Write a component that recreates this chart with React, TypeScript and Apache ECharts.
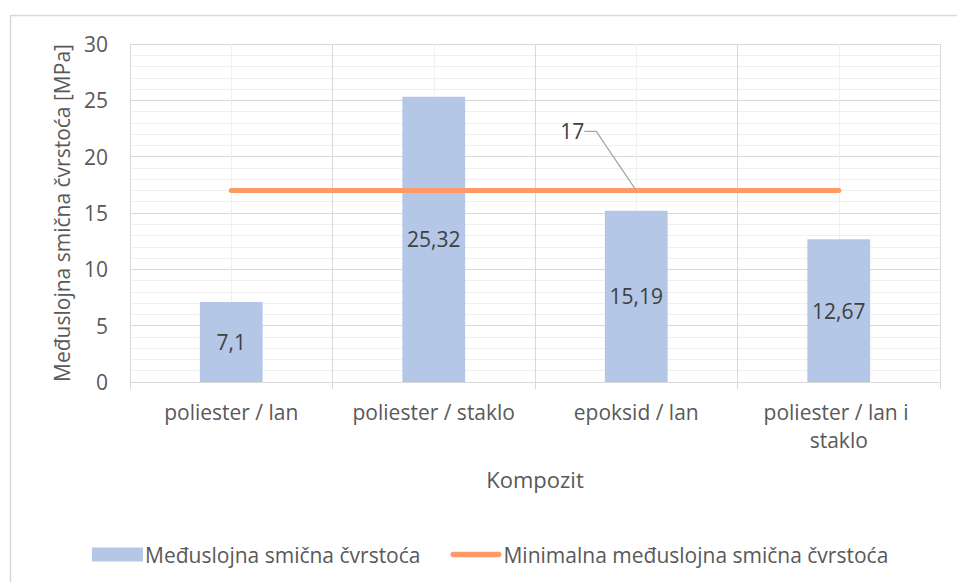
import React, { useEffect, useRef } from "react";
import * as echarts from "echarts";

const categories = ["poliester / lan", "poliester / staklo", "epoksid / lan", "poliester / lan i staklo"];
const strengthValues = [7.1, 25.32, 15.19, 12.67];
const minimumValues = [17, 17, 17, 17];
const labeledMinimumIndex = 2;
const yTicks = { min: 0, max: 30, interval: 5 };

const barName = "Međuslojna smična čvrstoća";
const lineName = "Minimalna međuslojna smična čvrstoća";
const yAxisName = "Međuslojna smična čvrstoća [MPa]";
const xAxisName = "Kompozit";

const FONT = "'Open Sans', 'Noto Sans', sans-serif";
const fmt = (v: number) => String(v).replace(".", ",");

export default function App() {
  const ref = useRef<HTMLDivElement>(null);
  useEffect(() => {
    document.body.style.margin = "0";
    const chart = echarts.init(ref.current!, null, { renderer: "svg" });
    chart.setOption({
      animation: false,
      backgroundColor: "#ffffff",
      textStyle: { fontFamily: FONT },
      graphic: [
        {
          type: "rect",
          z: -10,
          shape: { x: 10.5, y: 15.5, width: 1000, height: 1000 },
          style: { fill: "none", stroke: "#d9d9d9", lineWidth: 1.5 },
          silent: true,
        },
      ],
      grid: { left: 130, top: 44, right: 17, bottom: 200, containLabel: false },
      legend: {
        left: 87,
        top: 539,
        itemGap: 30,
        itemWidth: 51,
        itemHeight: 14,
        textStyle: { fontSize: 21, color: "#595959", fontFamily: FONT, padding: [0, 0, 0, -3] },
        data: [
          { name: barName, icon: "rect" },
          {
            name: lineName,
            icon: "path://M3,0 L53,0 A3,3 0 0 1 53,6 L3,6 A3,3 0 0 1 3,0 Z",
          },
        ],
      },
      xAxis: [
        {
          type: "category",
          data: categories,
          boundaryGap: true,
          name: xAxisName,
          nameLocation: "middle",
          nameGap: 86,
          nameTextStyle: { fontSize: 22, color: "#595959", fontFamily: FONT },
          axisLine: { show: true, lineStyle: { color: "#d9d9d9", width: 1 } },
          axisTick: { show: true, length: 7, lineStyle: { color: "#d9d9d9" } },
          splitLine: { show: true, lineStyle: { color: "#d9d9d9", width: 1 } },
          axisLabel: {
            interval: 0,
            margin: 16,
            fontSize: 21,
            color: "#595959",
            fontFamily: FONT,
            width: 190,
            overflow: "break",
            lineHeight: 28,
          },
        },
        {
          type: "value",
          min: 0,
          max: categories.length,
          interval: 1,
          position: "top",
          show: true,
          axisLine: { show: false },
          axisTick: { show: false },
          axisLabel: { show: false },
          splitLine: { show: false },
          minorTick: { show: false, splitNumber: 2 },
          minorSplitLine: { show: true, lineStyle: { color: "#f0f0f0", width: 1 } },
        },
      ],
      yAxis: {
        type: "value",
        min: yTicks.min,
        max: yTicks.max,
        interval: yTicks.interval,
        name: yAxisName,
        nameLocation: "middle",
        nameGap: 58,
        nameRotate: 90,
        nameTextStyle: { fontSize: 21, color: "#595959", fontFamily: FONT },
        axisLine: { show: false },
        axisTick: { show: false },
        axisLabel: { fontSize: 21, color: "#595959", margin: 22, fontFamily: FONT },
        splitLine: { show: true, lineStyle: { color: "#d9d9d9", width: 1 } },
        minorTick: { show: false, splitNumber: 5 },
        minorSplitLine: { show: true, lineStyle: { color: "#f0f0f0", width: 1 } },
      },
      series: [
        {
          name: barName,
          type: "bar",
          data: strengthValues,
          barWidth: "31%",
          itemStyle: { color: "#b4c7e7" },
          z: 3,
          label: {
            show: true,
            position: "inside",
            fontSize: 21,
            color: "#404040",
            fontFamily: FONT,
            formatter: (p: any) => fmt(p.value),
          },
        },
        {
          name: lineName,
          type: "line",
          data: minimumValues.map((v, i) =>
            i === labeledMinimumIndex ? { value: v, label: { show: true } } : v
          ),
          z: 5,
          symbol: "circle",
          symbolSize: 1,
          showSymbol: true,
          itemStyle: { color: "#ff9966" },
          lineStyle: { color: "#ff9966", width: 5, cap: "round" },
          label: {
            show: false,
            position: "top",
            fontSize: 21,
            color: "#404040",
            fontFamily: FONT,
            formatter: (p: any) => fmt(p.value),
          },
          labelLayout: { dx: -64, dy: -43 },
          labelLine: {
            show: true,
            length2: 12,
            lineStyle: { color: "#a6a6a6", width: 1.3 },
          },
        },
      ],
    });
    return () => chart.dispose();
  }, []);
  return <div ref={ref} style={{ position: "absolute", left: 0, top: 0, width: 957, height: 582 }} />;
}
